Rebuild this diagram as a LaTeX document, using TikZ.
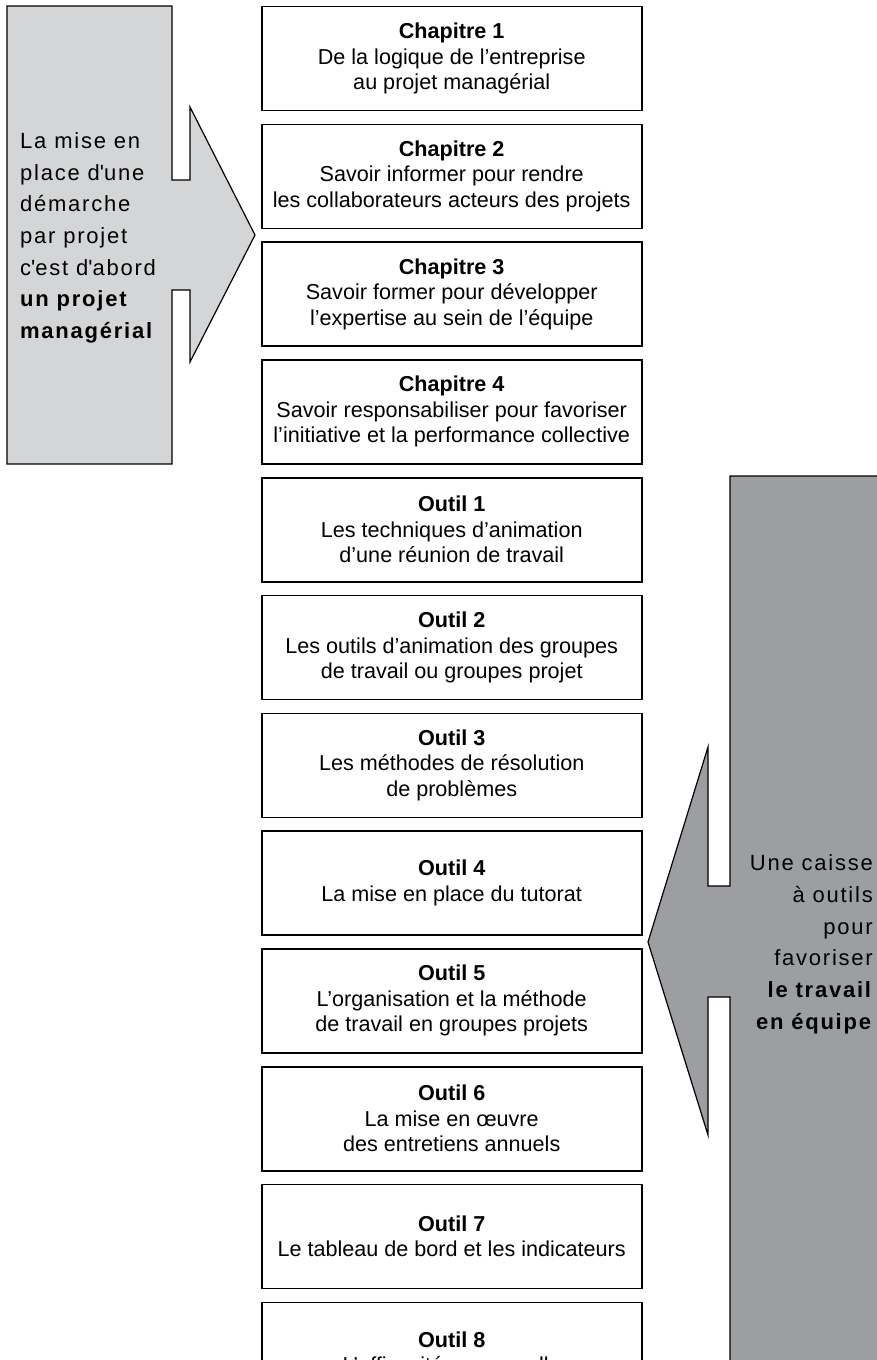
\documentclass[tikz,border=0pt]{standalone}
\usepackage{fontspec}
\setmainfont{Liberation Sans}
\newfontfamily\spacedfont[LetterSpace=8]{Liberation Sans}
\definecolor{leftgray}{RGB}{212,213,215}
\definecolor{rightgray}{RGB}{156,158,162}
\tikzset{
  itembox/.style={draw=black, line width=1.6pt, minimum width=380pt, minimum height=104pt,
    inner sep=0pt, align=center, font=\fontsize{21.6}{25.5}\selectfont},
  bigarrow/.style={draw=black, line width=1.2pt, line join=miter},
  bigtext/.style={inner sep=0pt, font=\spacedfont\fontsize{22}{31.7}\selectfont}
}
\begin{document}
\begin{tikzpicture}[x=1pt,y=-1pt]
\clip (0,0) rectangle (877,1360);
\fill[white] (0,0) rectangle (877,1360);
% left arrow shape
\draw[bigarrow, fill=leftgray] (7,6) -- (172,6) -- (172,180) -- (190,180) -- (190,107) -- (255,235)
  -- (190,362) -- (190,290) -- (172,290) -- (172,464) -- (7,464) -- cycle;
% right arrow shape
\draw[bigarrow, fill=rightgray] (900,476) -- (730,476) -- (730,886) -- (708,886) -- (708,747) -- (648,942)
  -- (708,1135) -- (708,997) -- (730,997) -- (730,1380) -- (900,1380);
\node[bigtext, anchor=west, align=left] (lefttext) at (20,237.8)
  {La mise en\\place d\textquotesingle une\\démarche\\par projet\\c\textquotesingle est d\textquotesingle abord\\\textbf{un projet}\\\textbf{managérial}};
\node[bigtext, anchor=east, align=right] (righttext) at (873,944.2)
  {Une caisse\\à outils\\pour\\favoriser\\\textbf{le travail}\\\textbf{en équipe}};
% boxes
\node[itembox] (c1) at (451.7,58.5) {\textbf{Chapitre 1}\\De la logique de l’entreprise\\au projet managérial};
\node[itembox] (c2) at (451.7,176.3) {\textbf{Chapitre 2}\\Savoir informer pour rendre\\les collaborateurs acteurs des projets};
\node[itembox] (c3) at (451.7,294.1) {\textbf{Chapitre 3}\\Savoir former pour développer\\l’expertise au sein de l’équipe};
\node[itembox] (c4) at (451.7,411.9) {\textbf{Chapitre 4}\\Savoir responsabiliser pour favoriser\\l’initiative et la performance collective};
\node[itembox] (o1) at (451.7,529.7) {\textbf{Outil 1}\\Les techniques d’animation\\d’une réunion de travail};
\node[itembox] (o2) at (451.7,647.5) {\textbf{Outil 2}\\Les outils d’animation des groupes\\de travail ou groupes projet};
\node[itembox] (o3) at (451.7,765.3) {\textbf{Outil 3}\\Les méthodes de résolution\\de problèmes};
\node[itembox] (o4) at (451.7,883.1) {\textbf{Outil 4}\\La mise en place du tutorat};
\node[itembox] (o5) at (451.7,1000.9) {\textbf{Outil 5}\\L’organisation et la méthode\\de travail en groupes projets};
\node[itembox] (o6) at (451.7,1118.7) {\textbf{Outil 6}\\La mise en œuvre\\des entretiens annuels};
\node[itembox] (o7) at (451.7,1236.5) {\textbf{Outil 7}\\Le tableau de bord et les indicateurs};
\node[itembox] (o8) at (451.7,1354.3) {\textbf{Outil 8}\\L’efficacité personnelle};
\end{tikzpicture}
\end{document}
